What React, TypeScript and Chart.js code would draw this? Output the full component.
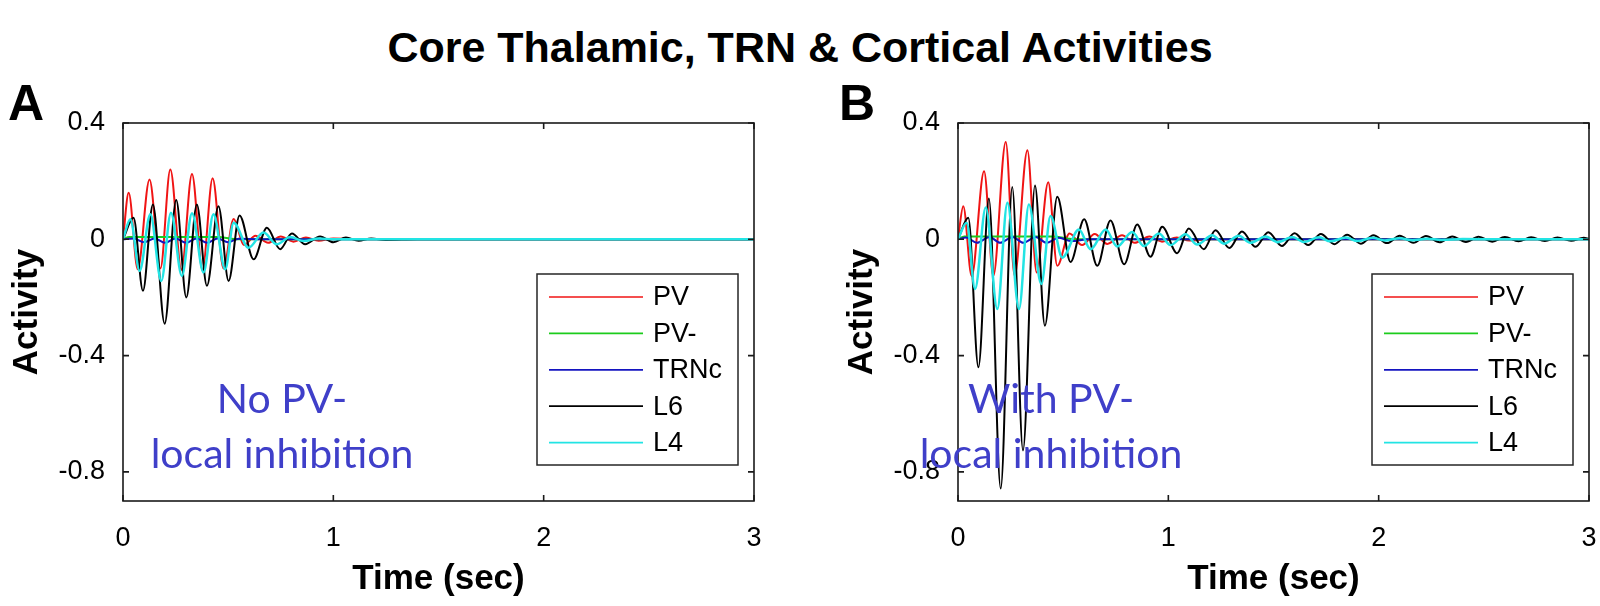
import React, { useEffect, useRef } from "react";
import { Chart, registerables } from "chart.js";

Chart.register(...registerables);

// ---------- shared labels / ticks ----------
const chartTitle = "Core Thalamic, TRN & Cortical Activities";
const seriesNames = ["PV", "PV-", "TRNc", "L6", "L4"];
const seriesColors = ["#f01414", "#1ccc1c", "#1414c0", "#000000", "#22e4e4"];
const seriesWidths = [2, 2, 2, 2, 2.5];
const seriesOrder = [4, 3, 2, 1, 0];
const xTickVals = [0, 1, 2, 3];
const yTickVals = [-0.8, -0.4, 0, 0.4];
const xTitle = "Time (sec)";
const yTitle = "Activity";

// ---------- Panel A (No PV- local inhibition) ----------
const aPvT = [0, 0.027, 0.07, 0.126, 0.178, 0.225, 0.278, 0.328, 0.378, 0.426, 0.478, 0.526, 0.575, 0.63, 0.69, 0.75, 0.81, 0.87, 0.93, 1.0, 1.1, 3.0];
const aPvV = [0, 0.16, -0.103, 0.206, -0.1, 0.24, -0.105, 0.225, -0.105, 0.21, -0.1, 0.07, -0.02, 0.012, -0.012, 0.01, -0.008, 0.006, -0.005, 0.003, 0, 0];
const aPvmT = [0, 0.03, 0.45, 0.55, 3.0];
const aPvmV = [0, 0.008, 0.008, 0, 0];
const aTrnT = [0, 0.05, 0.1, 0.15, 0.2, 0.25, 0.3, 0.35, 0.4, 0.45, 0.5, 0.55, 0.65, 3.0];
const aTrnV = [0, 0.003, -0.01, 0.003, -0.012, 0.003, -0.012, 0.003, -0.012, 0.003, -0.01, 0.002, 0, 0];
const aL6T = [0, 0.05, 0.095, 0.142, 0.198, 0.253, 0.301, 0.351, 0.399, 0.454, 0.502, 0.554, 0.621, 0.684, 0.747, 0.803, 0.866, 0.937, 1.0, 1.06, 1.12, 1.18, 1.25, 1.4, 3.0];
const aL6V = [0, 0.074, -0.177, 0.12, -0.29, 0.135, -0.2, 0.12, -0.16, 0.114, -0.143, 0.082, -0.069, 0.04, -0.034, 0.02, -0.017, 0.01, -0.01, 0.006, -0.005, 0.003, -0.002, 0, 0];
const aL4T = [0, 0.035, 0.079, 0.13, 0.182, 0.228, 0.28, 0.328, 0.383, 0.43, 0.486, 0.526, 0.597, 0.668, 0.731, 0.795, 0.86, 0.93, 1.0, 3.0];
const aL4V = [0, 0.069, -0.109, 0.086, -0.143, 0.091, -0.126, 0.09, -0.114, 0.086, -0.103, 0.057, -0.029, 0.023, -0.017, 0.008, -0.006, 0.003, 0, 0];

// ---------- Panel B (With PV- local inhibition) ----------
const bPvT = [0, 0.025, 0.065, 0.124, 0.168, 0.227, 0.269, 0.33, 0.374, 0.429, 0.472, 0.53, 0.59, 0.65, 0.71, 0.78, 0.84, 0.91, 0.97, 1.04, 1.1, 1.2, 3.0];
const bPvV = [0, 0.114, -0.126, 0.234, -0.126, 0.335, -0.125, 0.306, -0.114, 0.196, -0.091, 0.02, -0.02, 0.018, -0.016, 0.014, -0.012, 0.01, -0.008, 0.006, -0.004, 0, 0];
const bPvmT = [0, 0.03, 0.45, 0.55, 3.0];
const bPvmV = [0, 0.01, 0.01, 0, 0];
const bTrnT = [0, 0.04, 0.09, 0.15, 0.2, 0.26, 0.31, 0.37, 0.42, 0.48, 0.54, 0.62, 3.0];
const bTrnV = [0, 0.006, -0.012, 0.008, -0.012, 0.008, -0.012, 0.008, -0.012, 0.005, -0.006, 0, 0];
const bL6T = [0, 0.049, 0.097, 0.147, 0.203, 0.258, 0.309, 0.366, 0.413, 0.472, 0.535, 0.6, 0.662, 0.725, 0.79, 0.852, 0.915, 0.971, 1.042, 1.097, 1.169, 1.224, 1.29, 1.35, 1.415, 1.475, 1.54, 1.6, 1.665, 1.725, 1.79, 1.85, 1.915, 1.975, 2.04, 2.1, 2.165, 2.225, 2.29, 2.35, 2.415, 2.475, 2.54, 2.6, 2.665, 2.725, 2.79, 2.85, 2.915, 2.975, 3.0];
const bL6V = [0, 0.074, -0.44, 0.14, -0.857, 0.18, -0.726, 0.185, -0.297, 0.146, -0.078, 0.069, -0.091, 0.065, -0.086, 0.051, -0.06, 0.043, -0.048, 0.037, -0.034, 0.031, -0.03, 0.027, -0.026, 0.024, -0.023, 0.021, -0.02, 0.018, -0.017, 0.016, -0.015, 0.014, -0.013, 0.012, -0.012, 0.011, -0.01, 0.01, -0.009, 0.009, -0.008, 0.008, -0.007, 0.007, -0.006, 0.006, -0.005, 0.005, 0.002];
const bL4T = [0, 0.041, 0.081, 0.132, 0.187, 0.235, 0.29, 0.337, 0.396, 0.44, 0.496, 0.575, 0.63, 0.702, 0.757, 0.828, 0.884, 0.955, 1.01, 1.082, 1.137, 1.209, 1.264, 1.336, 1.39, 1.463, 1.52, 1.59, 1.645, 1.717, 1.77, 1.844, 1.9, 1.97, 2.03, 2.1, 2.16, 2.23, 2.3, 2.4, 2.6, 3.0];
const bL4V = [0, 0.057, -0.171, 0.109, -0.24, 0.126, -0.24, 0.12, -0.154, 0.08, -0.063, 0.034, -0.034, 0.034, -0.025, 0.025, -0.023, 0.02, -0.02, 0.017, -0.018, 0.014, -0.015, 0.012, -0.012, 0.01, -0.01, 0.008, -0.009, 0.007, -0.007, 0.006, -0.006, 0.005, -0.004, 0.004, -0.003, 0.002, -0.002, 0.001, 0, 0];

const panelA = { times: [aPvT, aPvmT, aTrnT, aL6T, aL4T], values: [aPvV, aPvmV, aTrnV, aL6V, aL4V] };
const panelB = { times: [bPvT, bPvmT, bTrnT, bL6T, bL4T], values: [bPvV, bPvmV, bTrnV, bL6V, bL4V] };

const FONT = '"Liberation Sans", Arial, Helvetica, sans-serif';

const framePlugin = {
  id: "matlabFrame",
  afterDraw(chart: any) {
    const { ctx, chartArea: a, scales } = chart;
    ctx.save();
    ctx.strokeStyle = "#1a1a1a";
    ctx.lineWidth = 1.6;
    ctx.strokeRect(a.left, a.top, a.right - a.left, a.bottom - a.top);
    ctx.beginPath();
    for (const v of xTickVals) {
      const px = scales.x.getPixelForValue(v);
      ctx.moveTo(px, a.bottom);
      ctx.lineTo(px, a.bottom - 6);
      ctx.moveTo(px, a.top);
      ctx.lineTo(px, a.top + 6);
    }
    for (const v of yTickVals) {
      const py = scales.y.getPixelForValue(v);
      ctx.moveTo(a.left, py);
      ctx.lineTo(a.left + 6, py);
      ctx.moveTo(a.right, py);
      ctx.lineTo(a.right - 6, py);
    }
    ctx.stroke();
    // legend box
    const w = 201;
    const h = 191;
    const lx = a.right - 16 - w;
    const ly = a.bottom - 36 - h;
    ctx.fillStyle = "#ffffff";
    ctx.fillRect(lx, ly, w, h);
    ctx.strokeStyle = "#262626";
    ctx.lineWidth = 1.5;
    ctx.strokeRect(lx, ly, w, h);
    ctx.font = `27px ${FONT}`;
    ctx.textBaseline = "middle";
    ctx.textAlign = "left";
    chart.data.datasets.forEach((ds: any, i: number) => {
      const y = ly + 23 + i * 36.4;
      ctx.strokeStyle = ds.borderColor;
      ctx.lineWidth = 1.7;
      ctx.beginPath();
      ctx.moveTo(lx + 12, y);
      ctx.lineTo(lx + 106, y);
      ctx.stroke();
      ctx.fillStyle = "#000";
      ctx.fillText(ds.label, lx + 116, y + 1);
    });
    ctx.restore();
  },
};

function makeConfig(panel: { times: number[][]; values: number[][] }, rightPad: number): any {
  const datasets = seriesNames.map((name, i) => ({
    label: name,
    data: panel.times[i].map((t, k) => ({ x: t, y: panel.values[i][k] })),
    borderColor: seriesColors[i],
    backgroundColor: seriesColors[i],
    borderWidth: seriesWidths[i],
    order: seriesOrder[i],
    pointRadius: 0,
    fill: false,
    cubicInterpolationMode: "monotone",
  }));
  return {
    type: "line",
    data: { datasets },
    plugins: [framePlugin],
    options: {
      responsive: false,
      animation: false,
      layout: { padding: { top: 23, right: rightPad, left: 0, bottom: 0 } },
      plugins: { legend: { display: false }, tooltip: { enabled: false } },
      scales: {
        x: {
          type: "linear",
          min: 0,
          max: 3,
          afterBuildTicks: (s: any) => {
            s.ticks = xTickVals.map((v) => ({ value: v }));
          },
          afterFit: (s: any) => {
            s.height = 105;
            s.paddingLeft = 0;
            s.paddingRight = 0;
          },
          grid: { display: false, drawTicks: false, tickLength: 0 },
          border: { display: false },
          ticks: {
            padding: 21,
            color: "#000",
            autoSkip: false,
            maxRotation: 0,
            font: { family: FONT, size: 27 },
            callback: (v: any) => String(v),
          },
          title: {
            display: true,
            text: xTitle,
            color: "#000",
            font: { family: FONT, size: 35, weight: "bold" },
            padding: { top: 0, bottom: 6 },
          },
        },
        y: {
          type: "linear",
          min: -0.9,
          max: 0.4,
          afterBuildTicks: (s: any) => {
            s.ticks = yTickVals.map((v) => ({ value: v }));
          },
          afterFit: (s: any) => {
            s.width = 123;
            s.paddingTop = 0;
            s.paddingBottom = 0;
          },
          grid: { display: false, drawTicks: false, tickLength: 0 },
          border: { display: false },
          ticks: {
            padding: 18,
            color: "#000",
            autoSkip: false,
            font: { family: FONT, size: 27 },
            callback: (v: any) => String(v),
          },
          title: {
            display: true,
            text: yTitle,
            color: "#000",
            font: { family: FONT, size: 35, weight: "bold" },
            padding: { top: 6, bottom: 0 },
          },
        },
      },
    },
  };
}

function Panel(props: { panel: any; left: number; width: number; rightPad: number }) {
  const ref = useRef<HTMLCanvasElement | null>(null);
  useEffect(() => {
    if (!ref.current) return;
    const chart = new Chart(ref.current, makeConfig(props.panel, props.rightPad));
    return () => chart.destroy();
  }, []);
  return (
    <canvas
      ref={ref}
      width={props.width}
      height={506}
      style={{ position: "absolute", left: props.left, top: 100, width: props.width, height: 506 }}
    />
  );
}

const noteStyle: any = {
  position: "absolute",
  top: 370,
  width: 400,
  textAlign: "center",
  fontFamily: "Lato, 'Open Sans', sans-serif",
  fontSize: 41,
  lineHeight: "55px",
  color: "rgb(63,63,201)",
  whiteSpace: "nowrap",
};

const letterStyle: any = {
  position: "absolute",
  top: 78,
  fontFamily: FONT,
  fontWeight: "bold",
  fontSize: 50,
  lineHeight: "50px",
  color: "#000",
};

export default function App() {
  useEffect(() => {
    document.body.style.margin = "0";
  }, []);
  return (
    <div style={{ position: "fixed", left: 0, top: 0, width: 1600, height: 606, background: "#fff", overflow: "hidden" }}>
      <div
        style={{
          position: "absolute",
          left: 0,
          top: 22,
          width: 1600,
          textAlign: "center",
          fontFamily: FONT,
          fontWeight: "bold",
          fontSize: 43,
          lineHeight: "50px",
          color: "#000",
        }}
      >
        {chartTitle}
      </div>
      <div style={{ ...letterStyle, left: 8 }}>A</div>
      <div style={{ ...letterStyle, left: 839 }}>B</div>
      <Panel panel={panelA} left={0} width={800} rightPad={46} />
      <Panel panel={panelB} left={835} width={765} rightPad={11} />
      <div style={{ ...noteStyle, left: 82 }}>
        No PV-
        <br />
        local inhibition
      </div>
      <div style={{ ...noteStyle, left: 851 }}>
        With PV-
        <br />
        local inhibition
      </div>
    </div>
  );
}
